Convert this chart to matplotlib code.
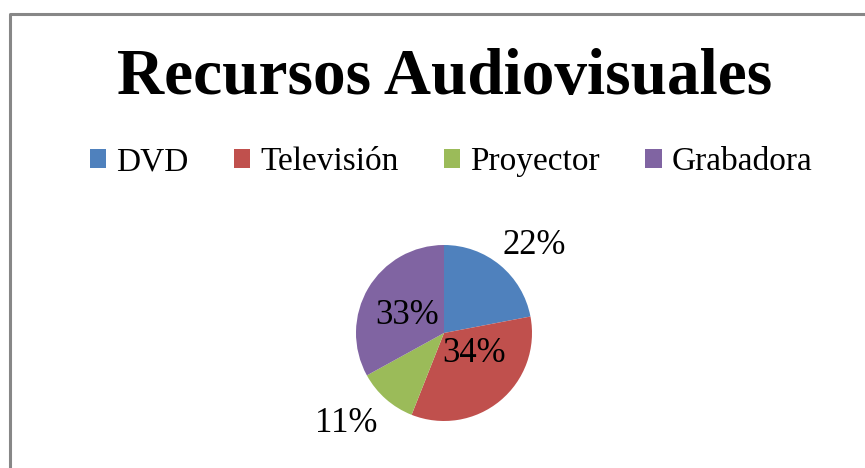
import matplotlib
matplotlib.use('Agg')
import matplotlib.pyplot as plt
from matplotlib.lines import Line2D

# Datos del gráfico
categorias = ['DVD', 'Televisión', 'Proyector', 'Grabadora']
valores = [22, 34, 11, 33]
colores = ['#4F81BD', '#C0504D', '#9BBB59', '#8064A2']
titulo = 'Recursos Audiovisuales'

# Posiciones de las etiquetas (coordenadas del eje, radio = 1), mismo orden que las categorías
pos_etiquetas = [(1.03, 1.00), (0.34, -0.23), (-1.11, -1.03), (-0.42, 0.20)]

plt.rcParams['font.family'] = ['Liberation Serif', 'DejaVu Serif']

W, H = 865, 468
fig = plt.figure(figsize=(W / 100, H / 100), dpi=100)
fig.patch.set_facecolor('white')

# Marco gris (izquierda y arriba)
borde = Line2D([9.5 / W, 9.5 / W, 1.0], [0.0, 1 - 13.5 / H, 1 - 13.5 / H],
               transform=fig.transFigure, color='#878787', linewidth=2.2)
fig.add_artist(borde)

# Título
fig.text(445 / W, 1 - 78 / H, titulo, ha='center', va='center',
         fontsize=47, fontweight='bold', color='black')

# Eje para el pastel: centro (444, 333) px, radio 91 px
cx, cy, r = 444, 333, 91
half = 110
ax = fig.add_axes([(cx - half) / W, (H - cy - half) / H, 2 * half / W, 2 * half / H])
ax.set_xlim(-half / r, half / r)
ax.set_ylim(-half / r, half / r)
ax.set_aspect('equal')
ax.axis('off')

wedges, textos, autotextos = ax.pie(
    valores, colors=colores, startangle=90, counterclock=False, radius=1,
    autopct='%1.0f%%', wedgeprops={'linewidth': 0},
    textprops={'fontsize': 25, 'color': 'black'})

for t, (x, y) in zip(autotextos, pos_etiquetas):
    t.set_position((x, y))
    t.set_ha('center')
    t.set_va('center')
    t.set_clip_on(False)

# Leyenda
fig.legend(wedges, categorias, loc='center', bbox_to_anchor=(451 / W, 1 - 162 / H),
           ncol=4, frameon=False, fontsize=24, handlelength=0.5, handleheight=0.5,
           handletextpad=0.3, columnspacing=1.35, borderaxespad=0, borderpad=0)

fig.savefig('out.png', dpi=100)
